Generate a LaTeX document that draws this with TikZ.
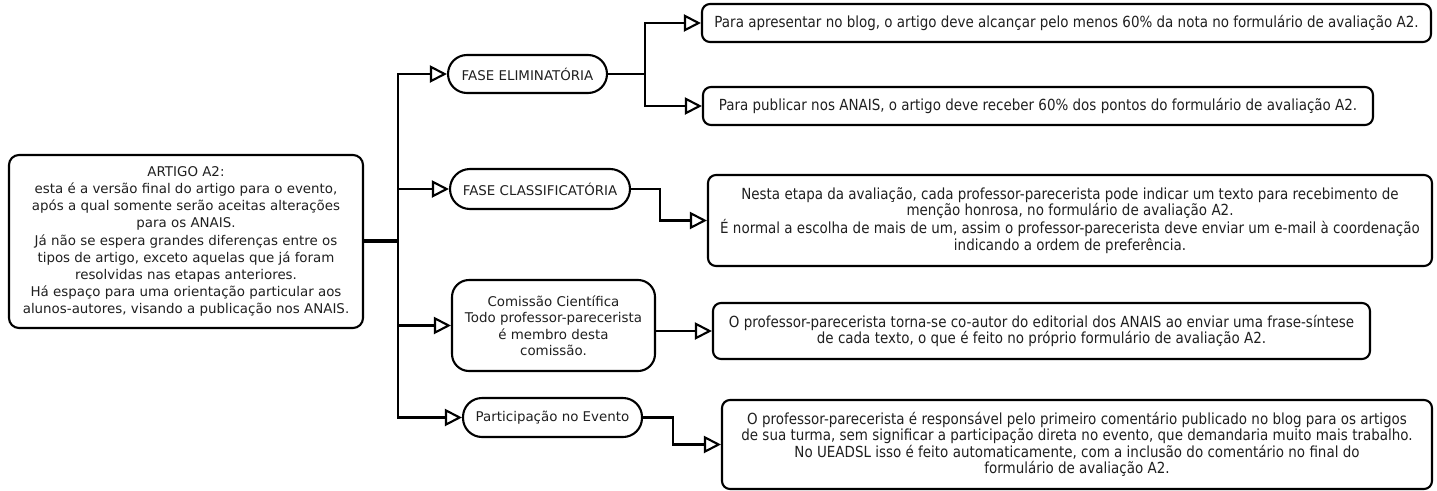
\documentclass[tikz,border=0pt]{standalone}
\usepackage{fontspec}
\setmainfont{DejaVu Sans}
\newfontfamily\condfont[FakeStretch=0.88]{DejaVu Sans}
\usetikzlibrary{arrows.meta}
\tikzset{
  basebox/.style={draw, line width=2.1pt, align=center, inner sep=0pt, text=black!88},
  leftbox/.style={basebox, rounded corners=10pt, font=\fontsize{13.4}{17.2}\selectfont},
  pill/.style={basebox, rounded corners=19pt, font=\fontsize{13.4}{16}\selectfont},
  bigpill/.style={basebox, rounded corners=17pt, font=\fontsize{13.4}{16.5}\selectfont},
  rbox/.style={basebox, rounded corners=8pt, font=\condfont\fontsize{15.3}{16.5}\selectfont},
  conn/.style={line width=2.1pt, -{Triangle[open, length=17pt, width=17pt, line width=2.1pt]}},
  plain/.style={line width=2.1pt},
  thick trunk/.style={line width=3.4pt}
}
\begin{document}
\begin{tikzpicture}[x=1pt,y=-1pt]
\useasboundingbox (0,0) rectangle (1437,490);

\node[leftbox, minimum width=354pt, minimum height=173pt] (art) at (186,241.5)
 {ARTIGO A2:\\esta é a versão final do artigo para o evento,\\após a qual somente serão aceitas alterações\\para os ANAIS.\\Já não se espera grandes diferenças entre os\\tipos de artigo, exceto aquelas que já foram\\resolvidas nas etapas anteriores.\\Há espaço para uma orientação particular aos\\alunos-autores, visando a publicação nos ANAIS.};

\node[pill, minimum width=159pt, minimum height=38pt] (fe) at (527.5,74) {FASE ELIMINATÓRIA};
\node[pill, minimum width=180pt, minimum height=40pt, rounded corners=20pt] (fc) at (540,189) {FASE CLASSIFICATÓRIA};
\node[bigpill, minimum width=203pt, minimum height=91pt] (cc) at (553.5,325.5) {Comissão Científica\\Todo professor-parecerista\\é membro desta\\comissão.};
\node[pill, minimum width=179pt, minimum height=39pt] (pe) at (552.5,417.5) {Participação no Evento};

\node[rbox, minimum width=729pt, minimum height=38pt] (b1) at (1066.5,23)
 {Para apresentar no blog, o artigo deve alcançar pelo menos 60\% da nota no formulário de avaliação A2.};
\node[rbox, minimum width=670pt, minimum height=38pt] (b2) at (1038,106)
 {Para publicar nos ANAIS, o artigo deve receber 60\% dos pontos do formulário de avaliação A2.};
\node[rbox, minimum width=724pt, minimum height=91pt] (b3) at (1070,220.5)
 {Nesta etapa da avaliação, cada professor-parecerista pode indicar um texto para recebimento de\\menção honrosa, no formulário de avaliação A2.\\É normal a escolha de mais de um, assim o professor-parecerista deve enviar um e-mail à coordenação\\indicando a ordem de preferência.};
\node[rbox, minimum width=657pt, minimum height=56pt] (b4) at (1041.5,331)
 {O professor-parecerista torna-se co-autor do editorial dos ANAIS ao enviar uma frase-síntese\\de cada texto, o que é feito no próprio formulário de avaliação A2.};
\node[rbox, minimum width=710pt, minimum height=89pt] (b5) at (1077,444.5)
 {O professor-parecerista é responsável pelo primeiro comentário publicado no blog para os artigos\\de sua turma, sem significar a participação direta no evento, que demandaria muito mais trabalho.\\No UEADSL isso é feito automaticamente, com a inclusão do comentário no final do\\formulário de avaliação A2.};

\coordinate (j) at (398,241);
\coordinate (jfe) at (645,74);
\coordinate (jfc) at (660,189);
\coordinate (jpe) at (673,417.5);

\draw[thick trunk] (art.east |- j) -- (j);
\draw[conn] (j) |- (fe.west);
\draw[conn] (j) |- (fc.west);
\draw[conn] (j) |- (cc.west);
\draw[conn] (j) |- (pe.west);

\draw[plain] (fe.east) -- (jfe);
\draw[conn] (jfe) |- (b1.west);
\draw[conn] (jfe) |- (b2.west);

\draw[conn] (fc.east) -- (jfc) |- (b3.west);
\draw[conn] (cc.east |- b4.west) -- (b4.west);
\draw[conn] (pe.east) -- (jpe) |- (b5.west);
\end{tikzpicture}
\end{document}
